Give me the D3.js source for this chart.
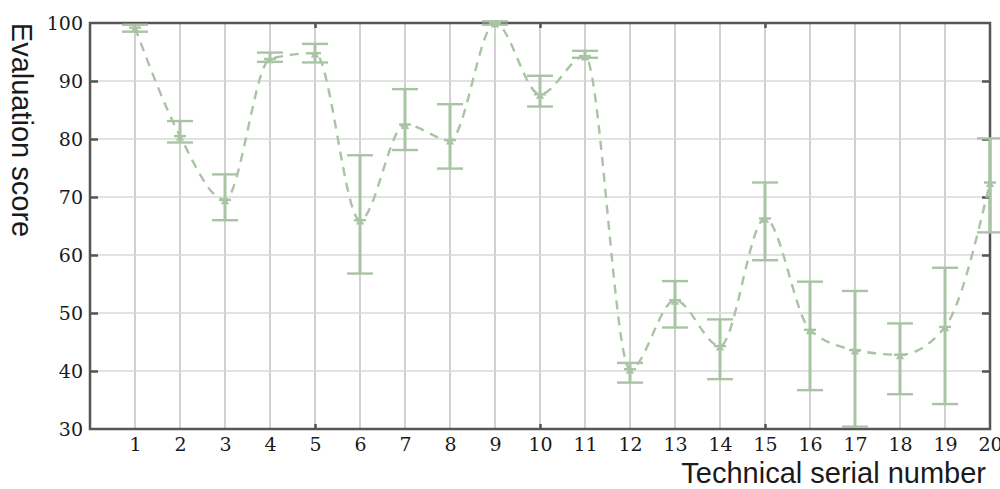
<!DOCTYPE html>
<html>
<head>
<meta charset="utf-8">
<script src="https://cdn.jsdelivr.net/npm/d3@7"></script>
<style>
  body { margin: 0; background: #fff; }
  svg text { fill: #1a1a1a; }
</style>
</head>
<body>
<svg id="chart" width="1000" height="489"></svg>
<script>
var serial = d3.range(1, 21),
    meanScore = [99.2, 80.5, 69.5, 93.8, 94.8, 66.0, 82.5, 79.8, 100, 87.7,
                 94.3, 40.3, 52.2, 44.3, 66.3, 47.1, 43.6, 42.8, 47.6, 72.5],
    lowScore  = [98.5, 79.4, 66.0, 93.3, 93.2, 56.8, 78.1, 74.9, 99.7, 85.6,
                 94.0, 38.0, 47.5, 38.6, 59.1, 36.7, 30.4, 36.0, 34.3, 63.9],
    highScore = [99.7, 83.1, 73.9, 94.9, 96.4, 77.2, 88.6, 86.0, 100.3, 90.9,
                 95.2, 41.4, 55.5, 48.9, 72.5, 55.4, 53.8, 48.2, 57.8, 80.1],
    yTicks = [30, 40, 50, 60, 70, 80, 90, 100],
    minorX = [5, 10, 15];

var svg = d3.select("#chart"),
    MARGINS = { top: 23, right: 10, bottom: 60, left: 90 },
    WIDTH = 1000,
    HEIGHT = 489,
    GREEN = "#a9c4a4",
    FRAME = "#555";

var xScale = d3.scaleLinear().domain([0, 20]).range([MARGINS.left, WIDTH - MARGINS.right]),
    yScale = d3.scaleLinear().domain([30, 100]).range([HEIGHT - MARGINS.bottom, MARGINS.top]);

var data = serial.map(function(s, i) {
  return { x: s, m: meanScore[i], lo: lowScore[i], hi: highScore[i] };
});

// grid
svg.append("g").selectAll("line")
  .data(d3.range(1, 20))
  .enter().append("line")
  .attr("x1", function(d) { return xScale(d); })
  .attr("x2", function(d) { return xScale(d); })
  .attr("y1", yScale(30)).attr("y2", yScale(100))
  .attr("stroke", "#bdbdbd").attr("stroke-width", 1.4);

svg.append("g").selectAll("line")
  .data(yTicks.slice(1, -1))
  .enter().append("line")
  .attr("x1", xScale(0)).attr("x2", xScale(20))
  .attr("y1", function(d) { return yScale(d); })
  .attr("y2", function(d) { return yScale(d); })
  .attr("stroke", "#d8d8d8").attr("stroke-width", 1.3);

// frame
svg.append("rect")
  .attr("x", xScale(0)).attr("y", yScale(100))
  .attr("width", xScale(20) - xScale(0))
  .attr("height", yScale(30) - yScale(100))
  .attr("fill", "none").attr("stroke", FRAME).attr("stroke-width", 2.5);

// inward ticks
var tickStyle = function(g) {
  g.select(".domain").remove();
  g.selectAll(".tick line").attr("stroke", FRAME).attr("stroke-width", 2.5);
  g.selectAll(".tick text").remove();
};
svg.append("g").attr("transform", "translate(" + xScale(0) + ",0)")
  .call(d3.axisLeft(yScale).tickValues(yTicks.slice(1, -1)).tickSize(-8)).call(tickStyle);
svg.append("g").attr("transform", "translate(" + xScale(20) + ",0)")
  .call(d3.axisRight(yScale).tickValues(yTicks.slice(1, -1)).tickSize(-8)).call(tickStyle);
svg.append("g").attr("transform", "translate(0," + yScale(30) + ")")
  .call(d3.axisBottom(xScale).tickValues(minorX).tickSize(-5)).call(tickStyle);
svg.append("g").attr("transform", "translate(0," + yScale(100) + ")")
  .call(d3.axisTop(xScale).tickValues(minorX).tickSize(-5)).call(tickStyle);

// tick labels
var labelStyle = function(g) {
  g.select(".domain").remove();
  g.selectAll(".tick line").remove();
  g.selectAll(".tick text")
    .attr("font-family", "'DejaVu Serif', serif")
    .attr("font-size", 19)
    .attr("fill", "#1a1a1a");
};
svg.append("g").attr("transform", "translate(" + xScale(0) + ",0)")
  .call(d3.axisLeft(yScale).tickValues(yTicks).tickSize(0).tickPadding(7)).call(labelStyle);
svg.append("g").attr("transform", "translate(0," + yScale(30) + ")")
  .call(d3.axisBottom(xScale).tickValues(serial).tickSize(0).tickPadding(9)).call(labelStyle);

// dashed mean line
var lineGen = d3.line()
  .x(function(d) { return xScale(d.x); })
  .y(function(d) { return yScale(d.m); })
  .curve(d3.curveMonotoneX);

svg.append("path")
  .attr("d", lineGen(data))
  .attr("fill", "none")
  .attr("stroke", GREEN)
  .attr("stroke-width", 2.4)
  .attr("stroke-dasharray", "9,7");

// error bars
var bars = svg.append("g").selectAll("g")
  .data(data)
  .enter().append("g")
  .attr("stroke", GREEN)
  .attr("stroke-width", 2.4);

bars.append("line")
  .attr("x1", function(d) { return xScale(d.x); })
  .attr("x2", function(d) { return xScale(d.x); })
  .attr("y1", function(d) { return yScale(d.lo); })
  .attr("y2", function(d) { return yScale(d.hi); })
  .attr("stroke-width", 3);

["lo", "hi"].forEach(function(k) {
  bars.append("line")
    .attr("x1", function(d) { return xScale(d.x) - 13; })
    .attr("x2", function(d) { return xScale(d.x) + 13; })
    .attr("y1", function(d) { return yScale(d[k]); })
    .attr("y2", function(d) { return yScale(d[k]); });
});

bars.append("line")
  .attr("x1", function(d) { return xScale(d.x) - 6; })
  .attr("x2", function(d) { return xScale(d.x) + 6; })
  .attr("y1", function(d) { return yScale(d.m); })
  .attr("y2", function(d) { return yScale(d.m); });

bars.append("path")
  .attr("d", d3.symbol(d3.symbolTriangle, 30))
  .attr("transform", function(d) { return "translate(" + xScale(d.x) + "," + (yScale(d.m) + 2) + ")"; })
  .attr("fill", GREEN).attr("stroke", "none");

// axis titles
svg.append("text")
  .attr("x", 986).attr("y", 483)
  .attr("text-anchor", "end")
  .attr("font-family", "'Liberation Sans', Arial, sans-serif")
  .attr("font-size", 29)
  .text("Technical serial number");

svg.append("text")
  .attr("transform", "translate(12,130) rotate(90)")
  .attr("text-anchor", "middle")
  .attr("font-family", "'Liberation Sans', Arial, sans-serif")
  .attr("font-size", 29)
  .text("Evaluation score");
</script>
</body>
</html>
